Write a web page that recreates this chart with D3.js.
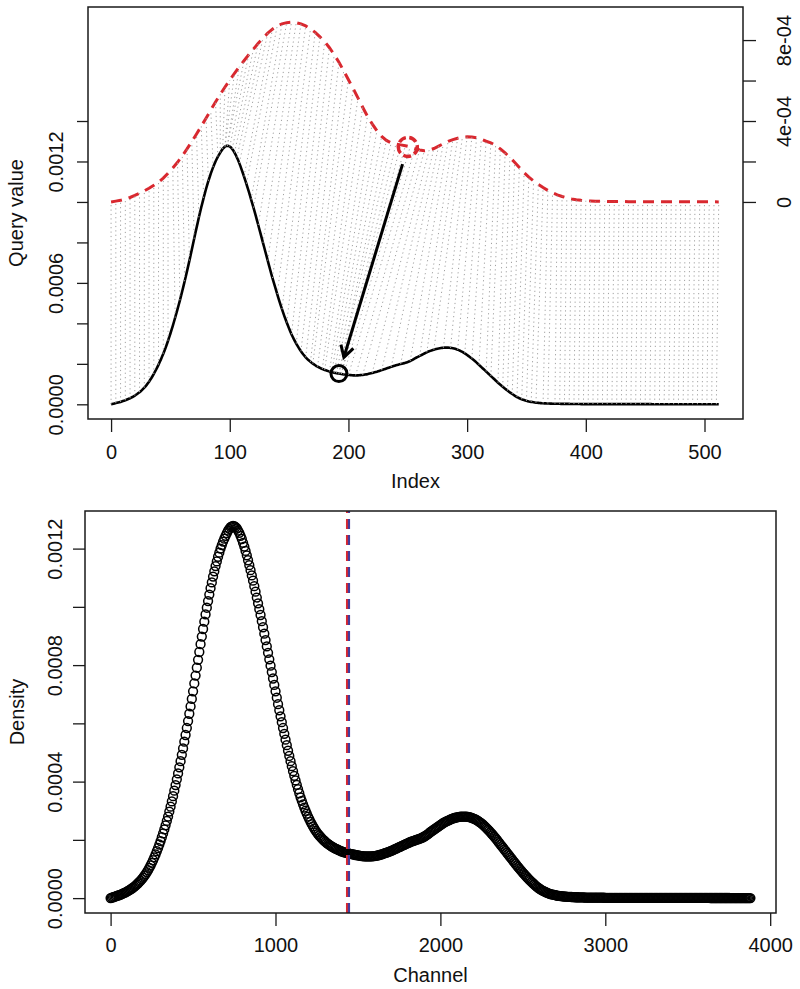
<!DOCTYPE html>
<html><head><meta charset="utf-8">
<script src="https://cdn.jsdelivr.net/npm/d3@7"></script>
<style>
body{margin:0;background:#fff}
svg{display:block}
text{font-family:"Liberation Sans",Arial,Helvetica,sans-serif;fill:#111}
</style>
</head><body>
<svg id="c" width="800" height="989"></svg>
<script>
// ---------------- DATA ----------------
// Query density (black curve, also bottom panel), values x 1e-4, at index 0,1,2,...,512
const queryDensityE4 = [
 0.00,0.015,0.03,0.045,0.06,0.075,0.09,0.105,0.12,0.14,0.16,0.18,0.20,0.225,0.25,0.275,
 0.30,0.33,0.36,0.395,0.43,0.47,0.51,0.555,0.60,0.65,0.70,0.76,0.82,0.89,0.96,1.04,
 1.12,1.21,1.30,1.40,1.50,1.61,1.72,1.84,1.96,2.09,2.22,2.36,2.50,2.65,2.80,2.97,
 3.14,3.32,3.50,3.69,3.88,4.08,4.28,4.49,4.70,4.92,5.14,5.37,5.60,5.84,6.08,6.33,
 6.58,6.84,7.10,7.37,7.64,7.91,8.18,8.45,8.72,8.98,9.24,9.49,9.74,9.97,10.20,10.42,
 10.64,10.84,11.04,11.22,11.40,11.56,11.72,11.86,12.00,12.12,12.24,12.34,12.44,12.53,12.62,12.68,
 12.74,12.76,12.78,12.77,12.74,12.69,12.62,12.54,12.44,12.33,12.20,12.07,11.92,11.77,11.60,11.43,
 11.26,11.08,10.90,10.71,10.52,10.32,10.12,9.92,9.72,9.51,9.30,9.08,8.86,8.64,8.42,8.20,
 7.98,7.76,7.54,7.32,7.10,6.88,6.66,6.45,6.24,6.04,5.84,5.64,5.44,5.25,5.06,4.88,
 4.70,4.53,4.36,4.20,4.04,3.89,3.74,3.60,3.46,3.34,3.22,3.11,3.00,2.90,2.80,2.71,
 2.62,2.54,2.46,2.39,2.32,2.26,2.20,2.15,2.10,2.05,2.01,1.97,1.93,1.89,1.86,1.83,
 1.80,1.77,1.75,1.72,1.70,1.68,1.66,1.64,1.62,1.60,1.59,1.57,1.56,1.55,1.54,1.53,
 1.52,1.51,1.50,1.49,1.48,1.475,1.47,1.46,1.45,1.445,1.44,1.435,1.43,1.43,1.43,1.43,
 1.43,1.435,1.44,1.445,1.45,1.46,1.47,1.48,1.49,1.505,1.52,1.535,1.55,1.565,1.58,1.595,
 1.61,1.63,1.65,1.67,1.69,1.71,1.73,1.75,1.77,1.79,1.81,1.83,1.85,1.87,1.89,1.91,
 1.93,1.945,1.96,1.975,1.99,2.005,2.02,2.035,2.05,2.07,2.09,2.115,2.14,2.17,2.20,2.235,
 2.27,2.30,2.33,2.36,2.39,2.42,2.45,2.48,2.51,2.54,2.57,2.60,2.62,2.64,2.66,2.68,
 2.70,2.72,2.735,2.75,2.76,2.77,2.78,2.79,2.795,2.80,2.80,2.80,2.80,2.795,2.79,2.78,
 2.77,2.755,2.74,2.72,2.70,2.675,2.65,2.62,2.59,2.555,2.52,2.48,2.44,2.395,2.35,2.305,
 2.26,2.21,2.16,2.11,2.06,2.005,1.95,1.895,1.84,1.785,1.73,1.675,1.62,1.565,1.51,1.455,
 1.40,1.345,1.29,1.235,1.18,1.125,1.07,1.02,0.97,0.92,0.87,0.82,0.77,0.725,0.68,0.635,
 0.59,0.55,0.51,0.47,0.43,0.395,0.36,0.33,0.30,0.275,0.25,0.23,0.21,0.19,0.17,0.155,
 0.14,0.13,0.12,0.11,0.10,0.09,0.08,0.075,0.07,0.065,0.06,0.055,0.05,0.048,0.045,0.042,
 0.04,0.038,0.035,0.032,0.03,0.03,0.03,0.028,0.025,0.025,0.025,0.022,0.02,0.02,0.02,0.02,
 0.02,0.02,0.02,0.018,0.015,0.015,0.015,0.015,0.015,0.015,0.015,0.012,0.01,0.01,0.01,0.01,
 0.01,0.01,0.01,0.01,0.01,0.01,0.01,0.01,0.01,0.01,0.01,0.01,0.01,0.01,0.01,0.01,
 0.01,0.01,0.01,0.01,0.01,0.01,0.01,0.01,0.01,0.01,0.01,0.01,0.01,0.01,0.01,0.01,
 0.01,0.01,0.01,0.01,0.01,0.01,0.01,0.01,0.008,0.008,0.008,0.008,0.008,0.008,0.008,0.008,
 0.008,0.008,0.008,0.008,0.008,0.008,0.008,0.008,0.006,0.006,0.006,0.006,0.006,0.006,0.006,0.006,
 0.006,0.006,0.006,0.006,0.006,0.006,0.006,0.006,0.005,0.005,0.005,0.005,0.005,0.005,0.005,0.005,
 0.004,0.004,0.004,0.004,0.004,0.004,0.004,0.004,0.004,0.004,0.004,0.004,0.004,0.004,0.004,0.004,
 0.003,0.003,0.003,0.003,0.003,0.003,0.003,0.003,0.003,0.003,0.003,0.003,0.003,0.003,0.003,0.003,
 0.002
];
// Reference density (red dashed curve, right axis), values x 1e-4, at index 0,4,8,...,512
const referenceDensityE4 = [
 0.00,0.04,0.08,0.14,0.22,0.32,0.43,0.55,0.68,0.82,0.98,1.18,1.42,1.68,1.96,2.28,
 2.62,2.98,3.36,3.74,4.14,4.54,4.94,5.32,5.68,6.02,6.36,6.68,6.98,7.28,7.56,7.84,
 8.10,8.34,8.54,8.70,8.80,8.86,8.88,8.86,8.80,8.70,8.56,8.38,8.16,7.92,7.62,7.28,
 6.90,6.48,6.04,5.60,5.14,4.68,4.24,3.86,3.52,3.24,3.04,2.92,2.86,2.82,2.78,2.72,
 2.64,2.57,2.53,2.56,2.64,2.76,2.88,2.99,3.08,3.15,3.20,3.22,3.21,3.17,3.10,3.00,
 2.92,2.80,2.62,2.42,2.20,1.96,1.70,1.45,1.23,1.04,0.87,0.71,0.57,0.45,0.35,0.27,
 0.20,0.15,0.11,0.08,0.06,0.05,0.04,0.03,0.03,0.02,0.02,0.02,0.02,0.01,0.01,0.01,
 0.01,0.01,0.01,0.01,0.01,0.01,0.01,0.01,0.005,0.005,0.005,0.005,0.005,0.005,0.005,0.005,
 0.00
];
// Alignment: query index matched to each reference index 0,4,...,512
const matchQueryIndex = [
 0,4,8,12,16,20,24,28,32,36,40,44,48,54,58,62,
 66,70,74,78,82,86,90,92,94,96,96,98,98,100,102,104,
 106,108,112,114,118,120,124,128,132,136,140,144,148,152,156,160,
 164,168,170,174,178,180,184,186,188,190,192,192,194,194,194,196,
 200,206,212,220,228,236,244,252,260,266,272,280,286,292,298,304,
 310,316,320,326,330,334,338,342,346,350,354,358,364,368,374,378,
 382,386,390,394,398,402,406,410,414,418,422,426,430,434,438,442,
 446,450,454,458,462,466,470,474,478,482,486,490,494,498,502,506,
 510
];
const highlightRefIndex = 250;   // red circled point
const highlightQueryIndex = 192; // black circled point
const referenceOffset = 0.001;   // red curve drawn shifted up by this amount (right axis)
const cutChannel = 1442;         // vertical dashed line in the bottom panel
const maxChannel = 3880;

const topXTicks = [0,100,200,300,400,500];
const topLeftTicks = [0,0.0002,0.0004,0.0006,0.0008,0.0010,0.0012,0.0014];
const topLeftLabels = ["0.0000","","","0.0006","","","0.0012",""];
const topRightTicks = [0,0.0002,0.0004,0.0006,0.0008];
const topRightLabels = ["0","","4e-04","","8e-04"];
const botXTicks = [0,1000,2000,3000,4000];
const botYTicks = [0,0.0002,0.0004,0.0006,0.0008,0.0010,0.0012];
const botYLabels = ["0.0000","","0.0004","","0.0008","","0.0012"];

// ---------------- DERIVED ----------------
const queryIndex = d3.range(0, 513, 1);
const referenceIndex = d3.range(0, 513, 4);
const query = queryIndex.map((idx, k) => ({idx, v: queryDensityE4[k] * 1e-4, ch: idx * maxChannel / 512}));
const reference = referenceIndex.map((idx, k) => ({idx, v: referenceDensityE4[k] * 1e-4}));
const qAt = idx => query[Math.round(idx)];
const rAt = idx => reference[Math.round(idx / 4)];

const svg = d3.select("#c");
const INK = "#1a1a1a";

function styleAxis(g){
  g.select(".domain").remove();
  g.selectAll(".tick line").attr("stroke", INK).attr("stroke-width", 1.3);
  g.selectAll(".tick text").attr("font-size", 20).attr("fill", INK);
}

// ---------------- TOP PANEL ----------------
const xT = d3.scaleLinear().domain([-19.44, 532.44]).range([88, 743]);
const yT = d3.scaleLinear().domain([-0.0000726, 0.0019634]).range([419, 7]);
const yTR = d3.scaleLinear().domain([-0.0000726 - referenceOffset, 0.0019634 - referenceOffset]).range([419, 7]);

// curves
svg.append("path").datum(query)
  .attr("d", d3.line().x(d => xT(d.idx)).y(d => yT(d.v)))
  .attr("fill","none").attr("stroke","#000").attr("stroke-width",2.6);
svg.append("path").datum(reference)
  .attr("d", d3.line().x(d => xT(d.idx)).y(d => yTR(d.v)))
  .attr("fill","none").attr("stroke","#d9282f").attr("stroke-width",3)
  .attr("stroke-dasharray","11,7");

// alignment lines
svg.append("g").selectAll("line").data(reference).join("line")
  .attr("x1", (d,k) => xT(matchQueryIndex[k]))
  .attr("y1", (d,k) => yT(qAt(matchQueryIndex[k]).v))
  .attr("x2", d => xT(d.idx))
  .attr("y2", d => yTR(d.v))
  .attr("stroke","#a2a2a2").attr("stroke-width",1)
  .attr("stroke-dasharray","1.2,3.2");

// highlighted pair
const rp = rAt(highlightRefIndex), qp = qAt(highlightQueryIndex);
const rx = xT(highlightRefIndex), ry = yTR(rp.v);
const qx = xT(highlightQueryIndex), qy = yT(qp.v);
svg.append("circle").attr("cx", rx).attr("cy", ry).attr("r", 9.5)
  .attr("fill","none").attr("stroke","#d9282f").attr("stroke-width",3.5).attr("stroke-dasharray","8,3.5");
svg.append("circle").attr("cx", qx).attr("cy", qy).attr("r", 8)
  .attr("fill","none").attr("stroke","#000").attr("stroke-width",3);
{
  const dx = qx - rx, dy = qy - ry, L = Math.hypot(dx, dy), ux = dx / L, uy = dy / L;
  const sx = rx + ux * 18, sy = ry + uy * 18, ex = qx - ux * 17, ey = qy - uy * 17;
  svg.append("line").attr("x1",sx).attr("y1",sy).attr("x2",ex).attr("y2",ey)
    .attr("stroke","#000").attr("stroke-width",3);
  const ang = Math.atan2(dy, dx), h = 13, a = Math.PI / 6;
  const p1 = [ex - h * Math.cos(ang - a), ey - h * Math.sin(ang - a)];
  const p2 = [ex - h * Math.cos(ang + a), ey - h * Math.sin(ang + a)];
  svg.append("path").attr("d", `M${p1}L${ex},${ey}L${p2}`)
    .attr("fill","none").attr("stroke","#000").attr("stroke-width",3).attr("stroke-linejoin","miter");
}

// box
svg.append("rect").attr("x",88).attr("y",7).attr("width",655).attr("height",412)
  .attr("fill","none").attr("stroke",INK).attr("stroke-width",1.5);

// axes
const gTx = svg.append("g").attr("transform","translate(0,419)")
  .call(d3.axisBottom(xT).tickValues(topXTicks).tickSize(13).tickFormat(d3.format("d")));
styleAxis(gTx);
gTx.selectAll(".tick text").attr("y", 39.5).attr("dy", 0);

const gTl = svg.append("g").attr("transform","translate(88,0)")
  .call(d3.axisLeft(yT).tickValues(topLeftTicks).tickSize(11).tickFormat((d,i) => topLeftLabels[i]));
styleAxis(gTl);
gTl.selectAll(".tick text").attr("x",0).attr("y",0).attr("dy",0)
  .attr("text-anchor","middle").attr("transform","translate(-25.5,0) rotate(-90)");

const gTr = svg.append("g").attr("transform","translate(743,0)")
  .call(d3.axisRight(yTR).tickValues(topRightTicks).tickSize(13).tickFormat((d,i) => topRightLabels[i]));
styleAxis(gTr);
gTr.selectAll(".tick text").attr("x",0).attr("y",0).attr("dy",0)
  .attr("text-anchor","middle").attr("transform","translate(48,0) rotate(-90)");

svg.append("text").attr("x",415.5).attr("y",488).attr("text-anchor","middle").attr("font-size",20).text("Index");
svg.append("text").attr("transform","translate(23,213) rotate(-90)").attr("text-anchor","middle").attr("font-size",20).text("Query value");

// ---------------- BOTTOM PANEL ----------------
const xB = d3.scaleLinear().domain([-155.2, 4035.2]).range([85, 776]);
const yB = d3.scaleLinear().domain([-0.0000511, 0.0013291]).range([913, 511]);

svg.append("g").selectAll("circle").data(query).join("circle")
  .attr("cx", d => xB(d.ch)).attr("cy", d => yB(d.v)).attr("r", 4.4)
  .attr("fill","none").attr("stroke","#000").attr("stroke-width",1.5);

svg.append("line").attr("x1", xB(cutChannel) - 0.8).attr("x2", xB(cutChannel) - 0.8)
  .attr("y1", 913).attr("y2", 511)
  .attr("stroke","#d9282f").attr("stroke-width",3.2).attr("stroke-dasharray","10,6");
svg.append("line").attr("x1", xB(cutChannel) + 0.6).attr("x2", xB(cutChannel) + 0.6)
  .attr("y1", 913).attr("y2", 511)
  .attr("stroke","#443c9c").attr("stroke-width",2.2).attr("stroke-dasharray","10,6");

svg.append("rect").attr("x",85).attr("y",511).attr("width",691).attr("height",402)
  .attr("fill","none").attr("stroke",INK).attr("stroke-width",1.5);

const gBx = svg.append("g").attr("transform","translate(0,913)")
  .call(d3.axisBottom(xB).tickValues(botXTicks).tickSize(13).tickFormat(d3.format("d")));
styleAxis(gBx);
gBx.selectAll(".tick text").attr("y", 38.5).attr("dy", 0);

const gBy = svg.append("g").attr("transform","translate(85,0)")
  .call(d3.axisLeft(yB).tickValues(botYTicks).tickSize(12).tickFormat((d,i) => botYLabels[i]));
styleAxis(gBy);
gBy.selectAll(".tick text").attr("x",0).attr("y",0).attr("dy",0)
  .attr("text-anchor","middle").attr("transform","translate(-23.5,0) rotate(-90)");

svg.append("text").attr("x",430.5).attr("y",981.5).attr("text-anchor","middle").attr("font-size",20).text("Channel");
svg.append("text").attr("transform","translate(24,712) rotate(-90)").attr("text-anchor","middle").attr("font-size",20).text("Density");
</script>
</body></html>
